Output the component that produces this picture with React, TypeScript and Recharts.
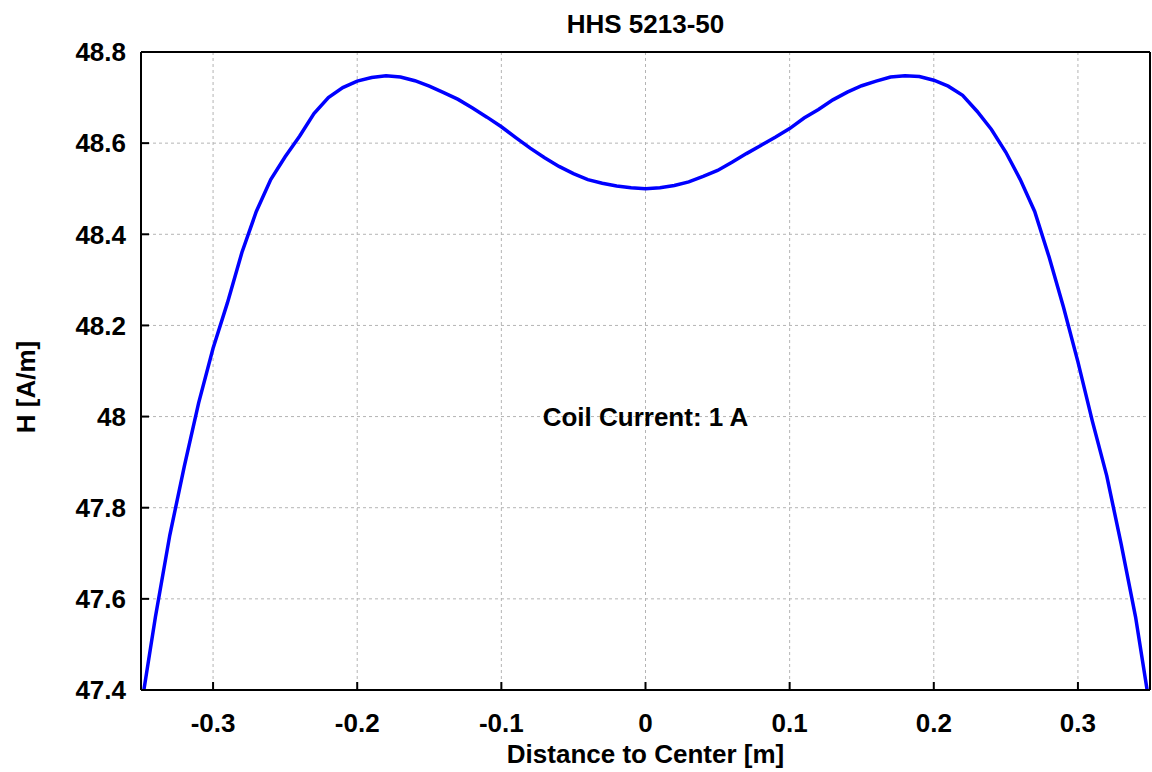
import React from 'react';
import {
  LineChart,
  Line,
  XAxis,
  YAxis,
  CartesianGrid,
  ReferenceDot,
} from 'recharts';

const TITLE = 'HHS 5213-50';
const X_LABEL = 'Distance to Center [m]';
const Y_LABEL = 'H [A/m]';
const ANNOTATION = 'Coil Current: 1 A';

const distances = [
  -0.348, -0.34, -0.33, -0.32, -0.31, -0.3, -0.29, -0.28, -0.27, -0.26,
  -0.25, -0.24, -0.23, -0.22, -0.21, -0.2, -0.19, -0.18, -0.17, -0.16,
  -0.15, -0.14, -0.13, -0.12, -0.11, -0.1, -0.09, -0.08, -0.07, -0.06,
  -0.05, -0.04, -0.03, -0.02, -0.01, 0,
  0.01, 0.02, 0.03, 0.04, 0.05, 0.06, 0.07, 0.08, 0.09, 0.1,
  0.11, 0.12, 0.13, 0.14, 0.15, 0.16, 0.17, 0.18, 0.19, 0.2,
  0.21, 0.22, 0.23, 0.24, 0.25, 0.26, 0.27, 0.28, 0.29, 0.3,
  0.31, 0.32, 0.33, 0.34, 0.348,
];

const hValues = [
  47.4, 47.56, 47.74, 47.89, 48.03, 48.15, 48.25, 48.36, 48.45, 48.52,
  48.57, 48.615, 48.665, 48.7, 48.722, 48.736, 48.744, 48.748, 48.745, 48.737,
  48.725, 48.711, 48.696, 48.677, 48.657, 48.636, 48.612, 48.589, 48.568, 48.549,
  48.533, 48.52, 48.512, 48.506, 48.502, 48.5,
  48.502, 48.507, 48.515, 48.527, 48.54, 48.558, 48.577, 48.595, 48.613, 48.632,
  48.655, 48.674, 48.695, 48.712, 48.726, 48.736, 48.745, 48.748, 48.746, 48.738,
  48.725, 48.705, 48.67, 48.63, 48.58, 48.52, 48.45, 48.35, 48.24, 48.12,
  47.99, 47.87, 47.72, 47.56, 47.4,
];

const xTicks = [-0.3, -0.2, -0.1, 0, 0.1, 0.2, 0.3];
const yTicks = [47.4, 47.6, 47.8, 48, 48.2, 48.4, 48.6, 48.8];
const xDomain = [-0.35, 0.35];
const yDomain = [47.4, 48.8];

const data = distances.map((x, i) => ({ x, h: hValues[i] }));

const FONT = '"Liberation Sans", Arial, Helvetica, sans-serif';
const textStyle = { fontSize: 26, fontWeight: 700, fontFamily: FONT, fill: '#000' };
const axisLineStyle = { stroke: '#000', strokeWidth: 2 };
const tickLineStyle = { stroke: '#000', strokeWidth: 2 };

export default function App() {
  return (
    <div style={{ position: 'absolute', left: 0, top: 0, width: 1152, height: 772, background: '#fff' }}>
      <LineChart
        width={1152}
        height={772}
        data={data}
        margin={{ top: 51, right: 1, bottom: 0, left: 0 }}
      >
        <CartesianGrid stroke="#b4b4b4" strokeDasharray="3 3" strokeWidth={1} />
        <XAxis
          dataKey="x"
          type="number"
          domain={xDomain}
          allowDataOverflow
          ticks={xTicks}
          tickFormatter={(v: number) => String(v)}
          height={82}
          tickSize={-8}
          tickMargin={32}
          tick={textStyle}
          axisLine={axisLineStyle}
          tickLine={tickLineStyle}
          label={(props: any) => {
            const vb = props.viewBox || {};
            return (
              <text
                x={vb.x + vb.width / 2}
                y={vb.y + vb.height - 9}
                textAnchor="middle"
                style={textStyle}
              >
                {X_LABEL}
              </text>
            );
          }}
        />
        <XAxis
          xAxisId="top"
          orientation="top"
          dataKey="x"
          type="number"
          domain={xDomain}
          allowDataOverflow
          ticks={xTicks}
          height={1}
          tickSize={-8}
          tick={false}
          axisLine={axisLineStyle}
          tickLine={tickLineStyle}
          label={(props: any) => {
            const vb = props.viewBox || {};
            return (
              <text
                x={vb.x + vb.width / 2}
                y={33}
                textAnchor="middle"
                style={textStyle}
              >
                {TITLE}
              </text>
            );
          }}
        />
        <YAxis
          type="number"
          domain={yDomain}
          allowDataOverflow
          ticks={yTicks}
          width={141}
          tickSize={-8}
          tickMargin={23}
          tick={textStyle}
          axisLine={axisLineStyle}
          tickLine={tickLineStyle}
          label={(props: any) => {
            const vb = props.viewBox || {};
            const cx = 26;
            const cy = vb.y + vb.height / 2 + 16;
            return (
              <text
                x={cx}
                y={cy}
                textAnchor="middle"
                dominantBaseline="central"
                transform={`rotate(-90, ${cx}, ${cy})`}
                style={textStyle}
              >
                {Y_LABEL}
              </text>
            );
          }}
        />
        <YAxis
          yAxisId="right"
          orientation="right"
          type="number"
          domain={yDomain}
          allowDataOverflow
          ticks={yTicks}
          width={1}
          tickSize={-8}
          tick={false}
          axisLine={axisLineStyle}
          tickLine={tickLineStyle}
        />
        <ReferenceDot
          x={0}
          y={48}
          r={0}
          fill="none"
          stroke="none"
          label={{
            value: ANNOTATION,
            position: 'center',
            style: textStyle,
          }}
        />
        <Line
          type="linear"
          dataKey="h"
          stroke="#0000ff"
          strokeWidth={3.5}
          dot={false}
          isAnimationActive={false}
        />
      </LineChart>
    </div>
  );
}
